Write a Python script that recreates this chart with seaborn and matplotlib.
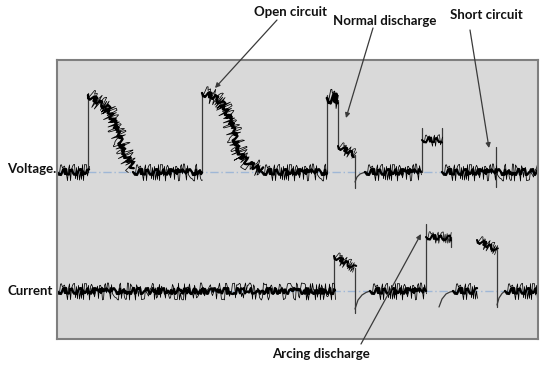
import numpy as np
import pandas as pd
import matplotlib
matplotlib.use("Agg")
import matplotlib.pyplot as plt
import seaborn as sns

sns.set_style("white")
plt.rcParams["font.family"] = ["Lato", "DejaVu Sans"]

# positions (x to the right, y downwards)
V_BASE = 172
C_BASE = 291

# voltage trace: noisy stretches at the baseline
v_flat = [(57, 89), (133, 202), (262, 327), (365, 421), (442, 538)]
# voltage trace: noisy pulses
v_pulse1_x = [88, 100, 107, 113, 120, 125, 130, 134]
v_pulse1_y = [95, 103, 107, 120, 140, 153, 163, 168]
v_pulse2_x = [202, 215, 222, 228, 233, 237, 242, 248, 255, 262]
v_pulse2_y = [93, 97, 103, 115, 130, 145, 157, 163, 167, 170]
v_pulse3_x = [327, 338]
v_pulse3_y = [98, 99]
v_pulse4_x = [338, 355]
v_pulse4_y = [146, 155]
v_pulse5_x = [422, 442]
v_pulse5_y = [140, 140]
# voltage trace: thin steps and recovery
v_steps = [((88, 172), (88, 93)), ((202, 172), (202, 92)), ((327, 172), (327, 95)),
           ((338, 100), (338, 145)), ((355, 155), (355, 188)), ((422, 172), (422, 128)),
           ((442, 128), (442, 172)), ((496, 147), (496, 187))]
v_recover_x = [355, 357, 360, 364, 367]
v_recover_y = [182, 177, 174, 172.5, 172]

# current trace
c_flat = [(57, 335), (370, 426), (453, 477), (505, 538)]
c_pulse1_x = [334, 355]
c_pulse1_y = [256, 268]
c_pulse2_x = [426, 451]
c_pulse2_y = [237, 238]
c_pulse3_x = [477, 497]
c_pulse3_y = [240, 250]
c_steps = [((334, 291), (334, 255)), ((355, 268), (355, 313)), ((426, 291), (426, 224)),
           ((451, 237), (451, 247)), ((497, 250), (497, 307))]
c_recover1_x = [355, 358, 362, 366, 370]
c_recover1_y = [309, 300, 295, 292.5, 291]
c_recover2_x = [439, 442, 446, 450, 454]
c_recover2_y = [307, 299, 294, 292, 291]
c_recover3_x = [497, 499, 502, 505]
c_recover3_y = [305, 298, 293.5, 291]

labels = {"Open circuit": ((291, 12), (277, 20), (215, 88)),
          "Normal discharge": ((385, 21), (373, 28), (346, 118)),
          "Short circuit": ((486, 15), (470, 30), (489, 148)),
          "Arcing discharge": ((321, 354), (361, 344), (421, 234))}

# build tables
noisy = []
for i, (a, b) in enumerate(v_flat):
    noisy.append(pd.DataFrame({"x": [a, b], "y": [V_BASE, V_BASE], "piece": f"vf{i}"}))
for i, (a, b) in enumerate(c_flat):
    noisy.append(pd.DataFrame({"x": [a, b], "y": [C_BASE, C_BASE], "piece": f"cf{i}"}))
for name, xs, ys in [("vp1", v_pulse1_x, v_pulse1_y), ("vp2", v_pulse2_x, v_pulse2_y),
                     ("vp3", v_pulse3_x, v_pulse3_y), ("vp4", v_pulse4_x, v_pulse4_y),
                     ("vp5", v_pulse5_x, v_pulse5_y), ("cp1", c_pulse1_x, c_pulse1_y),
                     ("cp2", c_pulse2_x, c_pulse2_y), ("cp3", c_pulse3_x, c_pulse3_y)]:
    noisy.append(pd.DataFrame({"x": xs, "y": ys, "piece": name}))
noisy = pd.concat(noisy, ignore_index=True)

thin = []
for i, (p0, p1) in enumerate(v_steps + c_steps):
    thin.append(pd.DataFrame({"x": [p0[0], p1[0]], "y": [p0[1], p1[1]], "piece": f"s{i}"}))
for name, xs, ys in [("r0", v_recover_x, v_recover_y), ("r1", c_recover1_x, c_recover1_y),
                     ("r2", c_recover2_x, c_recover2_y), ("r3", c_recover3_x, c_recover3_y)]:
    thin.append(pd.DataFrame({"x": xs, "y": ys, "piece": name}))
thin = pd.concat(thin, ignore_index=True)

# noise look (sketch wiggle) per group of pieces
strong = ["vp3"]
mild = ["vp4", "vp5", "cp1", "cp2", "cp3"]
noise_style = {
    "normal": [((3, 1.5, 10), 1.7), ((8.5, 3, 40), 0.55)],
    "strong": [((5, 1.5, 10), 2.0), ((10, 3, 40), 0.6)],
    "mild": [((2.5, 1.5, 10), 1.5), ((6, 3, 40), 0.5)],
}
group = np.where(noisy["piece"].isin(strong), "strong",
                 np.where(noisy["piece"].isin(mild), "mild", "normal"))

fig = plt.figure(figsize=(5.5, 3.69), dpi=100)
ax = fig.add_axes([57 / 550, 30 / 369, 481 / 550, 279 / 369])
ax.set_facecolor("#d9d9d9")
for s in ax.spines.values():
    s.set_color("#7f7f7f")
    s.set_linewidth(1.5)

for base in (V_BASE, C_BASE):
    ax.axhline(base, color="#9fb7d6", lw=1, ls=(0, (6, 2, 1, 2)), zorder=1)

sns.lineplot(data=thin, x="x", y="y", units="piece", estimator=None, sort=False,
             color="#3a3a3a", lw=0.9, ax=ax, legend=False)

for g, layers in noise_style.items():
    part = noisy[group == g]
    for sketch, lw in layers:
        with plt.rc_context({"path.sketch": sketch}):
            sns.lineplot(data=part, x="x", y="y", units="piece", estimator=None,
                         sort=False, color="black", lw=lw, ax=ax, legend=False)

ax.set_xlim(57, 538)
ax.set_ylim(339, 60)
ax.set_xticks([])
ax.set_yticks([])
ax.set_xlabel("")
ax.set_ylabel("")

txt = dict(fontsize=9.5, fontweight="bold", color="#111111")
for label, (pos, start, tip) in labels.items():
    ax.annotate("", xy=tip, xytext=start, annotation_clip=False,
                arrowprops=dict(arrowstyle="-|>", color="#3a3a3a", lw=0.9,
                                mutation_scale=7, shrinkA=0, shrinkB=0))
    ax.text(pos[0], pos[1], label, ha="center", va="center", clip_on=False, **txt)

ax.text(56, V_BASE - 3, "Voltage.", ha="right", va="center", clip_on=False, **txt)
ax.text(53, C_BASE, "Current", ha="right", va="center", clip_on=False, **txt)

fig.savefig("out.png", dpi=100)
